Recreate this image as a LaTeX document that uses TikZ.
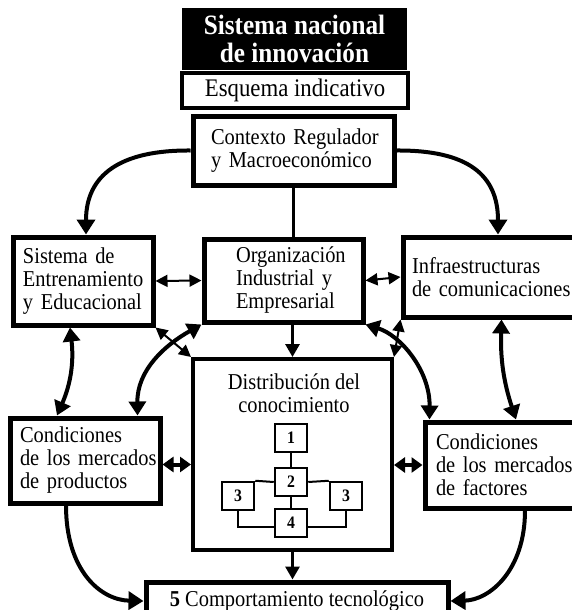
\documentclass[tikz,border=0pt]{standalone}
\usepackage{fontspec}
\setmainfont{Liberation Serif}[FakeStretch=0.9]
\usetikzlibrary{arrows.meta,positioning}

\tikzset{
	mainbox/.style={draw, line width=5pt, align=left, inner sep=0pt, font=\fontsize{22.7}{23}\selectfont,
		execute at begin node={\hyphenpenalty=10000\exhyphenpenalty=10000\relax}},
	titlebox/.style={fill=black, text=white, align=center, inner sep=0pt, font=\bfseries\fontsize{28}{28}\selectfont},
	esqbox/.style={draw, line width=3.5pt, inner sep=0pt, font=\fontsize{25.3}{25}\selectfont},
	distbox/.style={draw, line width=4pt, inner sep=0pt},
	plaintext/.style={align=center, inner sep=0pt, font=\fontsize{22.7}{23}\selectfont},
	numbox/.style={draw, line width=2.5pt, inner sep=0pt, minimum width=32pt, minimum height=28pt, font=\bfseries\fontsize{17.5}{18}\selectfont},
	bigarrow/.style={line width=4pt, -{Triangle[length=15pt,width=18pt]}},
	bigboth/.style={line width=4pt, {Triangle[length=14pt,width=17pt]}-{Triangle[length=14pt,width=17pt]}},
	shortboth/.style={line width=4pt, {Triangle[length=11pt,width=15pt]}-{Triangle[length=11pt,width=15pt]}},
	midarrow/.style={line width=3pt, -{Triangle[length=13pt,width=14pt]}},
	thinboth/.style={line width=2pt, {Triangle[length=12pt,width=12pt]}-{Triangle[length=12pt,width=12pt]}},
	numline/.style={line width=2pt}
}
\tikzset{every picture/.style={line width=0.75pt}}

\begin{document}
\begin{tikzpicture}[x=1pt,y=1pt,yscale=-1,xscale=1]
	\useasboundingbox (0,0) rectangle (572,610);
	\clip (0,0) rectangle (572,610);

	%Title boxes
	\node[titlebox, minimum width=225pt, minimum height=62pt] (title) at (294.5,39) {Sistema nacional\\de innovación};
	\node[esqbox, minimum width=226pt, minimum height=35pt] (esquema) at (295,90.5) {Esquema indicativo};

	%Main boxes
	\node[mainbox, minimum width=201pt, minimum height=69pt, text width=165pt] (ctx) at (293.5,150.5) {Contexto~Regulador\\y~Macroeconómico};
	\node[mainbox, minimum width=140pt, minimum height=88pt, text width=120pt] (sis) at (83,281) {Sistema~de\\Entrenamiento\\y~Educacional};
	\node[mainbox, minimum width=159pt, minimum height=83pt, text width=95pt] (org) at (283.5,280.5) {Organización\\Industrial~y\\Empresarial};
	\node[mainbox, minimum width=177pt, minimum height=80pt, text width=159pt] (infra) at (491.5,277) {Infraestructuras\\de~comunicaciones};
	\node[mainbox, minimum width=150pt, minimum height=85pt, text width=130pt] (prod) at (85,460.5) {Condiciones\\de~los~mercados\\de~productos};
	\node[mainbox, minimum width=160pt, minimum height=86pt, text width=138pt] (fac) at (505,465) {Condiciones\\de~los~mercados\\de~factores};
	\node[mainbox, minimum width=302pt, minimum height=38pt, align=center] (bot) at (297,601) {\textbf{5} Comportamiento tecnológico};

	%Distribution box
	\node[distbox, minimum width=199pt, minimum height=191pt] (dist) at (292.5,454.5) {};
	\node[plaintext] (disttitle) at (294,393.5) {Distribución del\\conocimiento};

	%Numbered boxes
	\node[numbox] (n1) at (291,438) {1};
	\node[numbox] (n2) at (291,482) {2};
	\node[numbox] (n3l) at (238,496) {3};
	\node[numbox] (n3r) at (346,496) {3};
	\node[numbox] (n4) at (291,523) {4};
	\draw[numline] (n1) -- (n2);
	\draw[numline] (n2) -- (n4);
	\draw[numline] (n2.west) -- (n3l.north east);
	\draw[numline] (n2.east) -- (n3r.north west);
	\draw[numline] (n3l) |- ([yshift=4pt]n4.west);
	\draw[numline] (n3r) |- ([yshift=4pt]n4.east);

	%Top connectors
	\draw[bigarrow] (ctx.west) .. controls (120,150) and (86,175) .. ([xshift=3pt]sis.north);
	\draw[bigarrow] (ctx.east) .. controls (468,150) and (498,175) .. ([xshift=6.5pt]infra.north);
	\draw[line width=3.5pt] (ctx.south) -- (ctx.south |- org.north);

	%Row connectors
	\draw[thinboth] (sis.east) -- (org.west);
	\draw[thinboth] (org.east) -- (infra.west);
	\draw[midarrow] (dist.north |- org.south) -- (dist.north);
	\draw[thinboth] (sis.south east) -- (dist.north west);
	\draw[thinboth] (infra.south west) -- (dist.north east);

	%Curved double arrows
	\draw[bigboth] (org.south west) .. controls (165,345) and (137,370) .. ([xshift=-25pt]prod.north east);
	\draw[bigboth] (org.south east) .. controls (400,335) and (430,370) .. ([xshift=7pt]fac.north west);
	\draw[bigboth] ([xshift=-13pt]sis.south) to[bend right=15] ([xshift=-28pt]prod.north);
	\draw[bigboth] ([xshift=10pt]infra.south) to[bend left=10] ([xshift=11pt]fac.north);
	\draw[shortboth] ([yshift=4pt]prod.east) -- ([yshift=4pt]prod.east -| dist.west);
	\draw[shortboth] (fac.west) -- (fac.west -| dist.east);

	%Bottom connectors
	\draw[midarrow] (dist.south) -- (dist.south |- bot.north);
	\draw[bigarrow] ([xshift=-19pt]prod.south) .. controls (66,570) and (100,600) .. (bot.west);
	\draw[bigarrow] ([xshift=20pt]fac.south) .. controls (525,570) and (490,600) .. (bot.east);

\end{tikzpicture}
\end{document}
